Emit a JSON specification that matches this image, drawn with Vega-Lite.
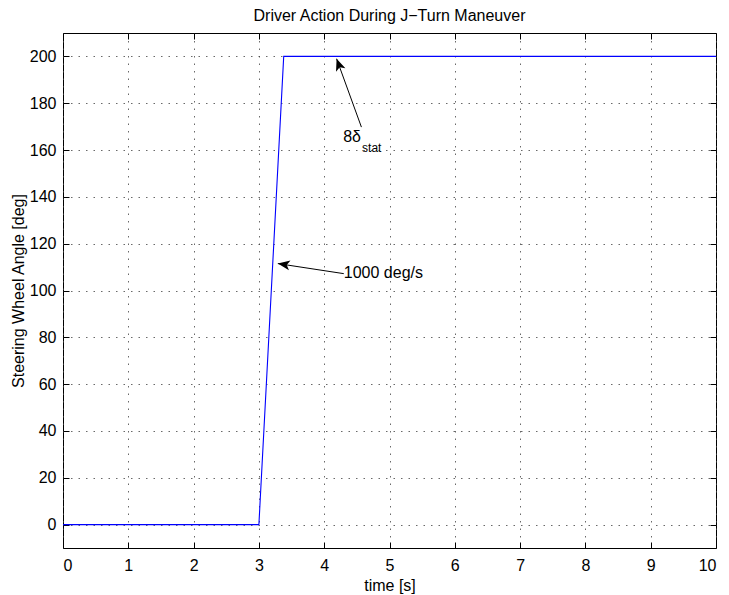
{
  "$schema": "https://vega.github.io/schema/vega-lite/v6.json",
  "width": 653,
  "height": 515,
  "autosize": {"type": "none"},
  "padding": {"left": 63, "top": 33, "right": 13, "bottom": 47},
  "background": "white",
  "config": {
    "font": "Liberation Sans",
    "view": {"stroke": "black", "strokeWidth": 1},
    "axis": {
      "labelFont": "Liberation Sans",
      "titleFont": "Liberation Sans",
      "labelFontSize": 16,
      "titleFontSize": 16,
      "titleFontWeight": "normal",
      "labelColor": "black",
      "titleColor": "black",
      "domain": false,
      "tickColor": "black",
      "tickSize": -6,
      "grid": true,
      "gridColor": "#444",
      "gridDash": [1.5, 6],
      "gridOpacity": 0.8
    },
    "title": {"font": "Liberation Sans", "fontSize": 16, "fontWeight": "normal", "color": "black"}
  },
  "title": {"text": "Driver Action During J\u2212Turn Maneuver", "anchor": "middle", "offset": 9},
  "datasets": {
    "signal": [
      {"time": 0, "angle": 0},
      {"time": 3.0, "angle": 0},
      {"time": 3.38, "angle": 200},
      {"time": 10, "angle": 200}
    ],
    "arrows": [
      {"name": "rate", "x0": 4.3, "y0": 107.2, "x1": 3.29, "y1": 111.5},
      {"name": "stat", "x0": 4.57, "y0": 169.8, "x1": 4.19, "y1": 199}
    ],
    "labels": [
      {"text": "1000 deg/s", "time": 4.3, "angle": 107.5, "kind": "main"},
      {"text": "8\u03b4", "time": 4.29, "angle": 165.5, "kind": "main"},
      {"text": "stat", "time": 4.58, "angle": 161.0, "kind": "sub"}
    ]
  },
  "layer": [
    {
      "data": {"name": "signal"},
      "mark": {"type": "line", "color": "#0000ff", "strokeWidth": 1.1, "clip": true},
      "encoding": {
        "x": {
          "field": "time", "type": "quantitative",
          "scale": {"domain": [0, 10], "nice": false, "zero": false},
          "axis": {"title": "time [s]", "values": [0,1,2,3,4,5,6,7,8,9,10], "labelPadding": 15, "titlePadding": 4, "orient": "bottom"}
        },
        "y": {
          "field": "angle", "type": "quantitative",
          "scale": {"domain": [-10, 210], "nice": false, "zero": false},
          "axis": {"title": "Steering Wheel Angle [deg]", "values": [0,20,40,60,80,100,120,140,160,180,200], "labelPadding": 13, "titlePadding": 3, "orient": "left"}
        }
      }
    },
    {
      "data": {"name": "signal"},
      "mark": {"type": "line", "opacity": 0},
      "encoding": {
        "x": {
          "field": "time", "type": "quantitative",
          "axis": {"orient": "top", "title": null, "labels": false, "grid": false, "values": [0,1,2,3,4,5,6,7,8,9,10]}
        },
        "y": {
          "field": "angle", "type": "quantitative",
          "axis": {"orient": "right", "title": null, "labels": false, "grid": false, "values": [0,20,40,60,80,100,120,140,160,180,200]}
        }
      }
    },
    {
      "data": {"name": "arrows"},
      "mark": {"type": "rule", "color": "black", "strokeWidth": 1},
      "encoding": {
        "x": {"field": "x0", "type": "quantitative", "axis": null},
        "y": {"field": "y0", "type": "quantitative", "axis": null},
        "x2": {"field": "x1"},
        "y2": {"field": "y1"}
      }
    },
    {
      "data": {"name": "arrows"},
      "transform": [{"filter": "datum.name === 'rate'"}],
      "mark": {"type": "point", "filled": true, "color": "black", "opacity": 1, "size": 100, "angle": 278.6, "shape": "M0,0 L1,2.4 L0,1.8 L-1,2.4 Z"},
      "encoding": {
        "x": {"field": "x1", "type": "quantitative", "axis": null},
        "y": {"field": "y1", "type": "quantitative", "axis": null}
      }
    },
    {
      "data": {"name": "arrows"},
      "transform": [{"filter": "datum.name === 'stat'"}],
      "mark": {"type": "point", "filled": true, "color": "black", "opacity": 1, "size": 100, "angle": 340, "shape": "M0,0 L1,2.4 L0,1.8 L-1,2.4 Z"},
      "encoding": {
        "x": {"field": "x1", "type": "quantitative", "axis": null},
        "y": {"field": "y1", "type": "quantitative", "axis": null}
      }
    },
    {
      "data": {"name": "labels"},
      "transform": [{"filter": "datum.kind === 'main'"}],
      "mark": {"type": "text", "align": "left", "baseline": "middle", "fontSize": 16, "color": "black", "font": "Liberation Sans"},
      "encoding": {
        "x": {"field": "time", "type": "quantitative", "axis": null},
        "y": {"field": "angle", "type": "quantitative", "axis": null},
        "text": {"field": "text"}
      }
    },
    {
      "data": {"name": "labels"},
      "transform": [{"filter": "datum.kind === 'sub'"}],
      "mark": {"type": "text", "align": "left", "baseline": "middle", "fontSize": 12, "color": "black", "font": "Liberation Sans"},
      "encoding": {
        "x": {"field": "time", "type": "quantitative", "axis": null},
        "y": {"field": "angle", "type": "quantitative", "axis": null},
        "text": {"field": "text"}
      }
    }
  ],
  "resolve": {"axis": {"x": "independent", "y": "independent"}}
}
